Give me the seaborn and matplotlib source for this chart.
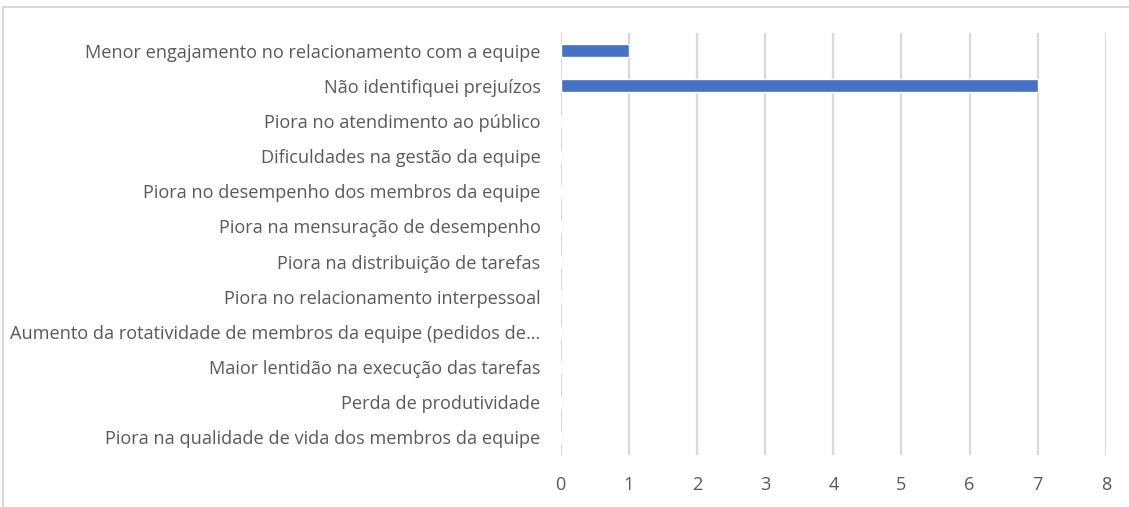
import matplotlib
matplotlib.use("Agg")
import matplotlib.pyplot as plt
import pandas as pd
import seaborn as sns
from matplotlib.lines import Line2D

categorias = [
    "Menor engajamento no relacionamento com a equipe",
    "Não identifiquei prejuízos",
    "Piora no atendimento ao público",
    "Dificuldades na gestão da equipe",
    "Piora no desempenho dos membros da equipe",
    "Piora na mensuração de desempenho",
    "Piora na distribuição de tarefas",
    "Piora no relacionamento interpessoal",
    "Aumento da rotatividade de membros da equipe (pedidos de…",
    "Maior lentidão na execução das tarefas",
    "Perda de produtividade",
    "Piora na qualidade de vida dos membros da equipe",
]
respostas = [1, 7, 0, 0, 0, 0, 0, 0, 0, 0, 0, 0]
xticks = [0, 1, 2, 3, 4, 5, 6, 7, 8]

df = pd.DataFrame({"categoria": categorias, "respostas": respostas})

sns.set_style("white")
plt.rcParams["font.family"] = ["Open Sans", "DejaVu Sans"]

fig = plt.figure(figsize=(11.29, 5.07), dpi=100)
ax = fig.add_axes([0.4966, 0.1026, 0.9796 - 0.4966, 0.9349 - 0.1026])

sns.barplot(data=df, y="categoria", x="respostas", orient="h", color="#4472C4",
            width=0.36, saturation=1, ax=ax, zorder=3)

ax.set_xlim(0, 8)
ax.set_ylim(11.5, -0.5)
ax.set_xticks(xticks)
ax.grid(axis="x", color="#d9d9d9", linewidth=1.6, zorder=0)
ax.grid(axis="y", visible=False)
for s in ax.spines.values():
    s.set_visible(False)
ax.set_xlabel("")
ax.set_ylabel("")
ax.tick_params(axis="y", length=0, pad=14.5, labelsize=13.1, labelcolor="#595959")
ax.tick_params(axis="x", length=0, pad=15, labelsize=13.1, labelcolor="#595959")

# borda do gráfico (estilo Excel)
fig.add_artist(Line2D([3 / 1129, 3 / 1129], [0, 1 - 7 / 507], transform=fig.transFigure,
                      color="#d9d9d9", linewidth=1.5))
fig.add_artist(Line2D([3 / 1129, 1], [1 - 7 / 507, 1 - 7 / 507], transform=fig.transFigure,
                      color="#d9d9d9", linewidth=1.5))

fig.savefig("out.png", dpi=100)
